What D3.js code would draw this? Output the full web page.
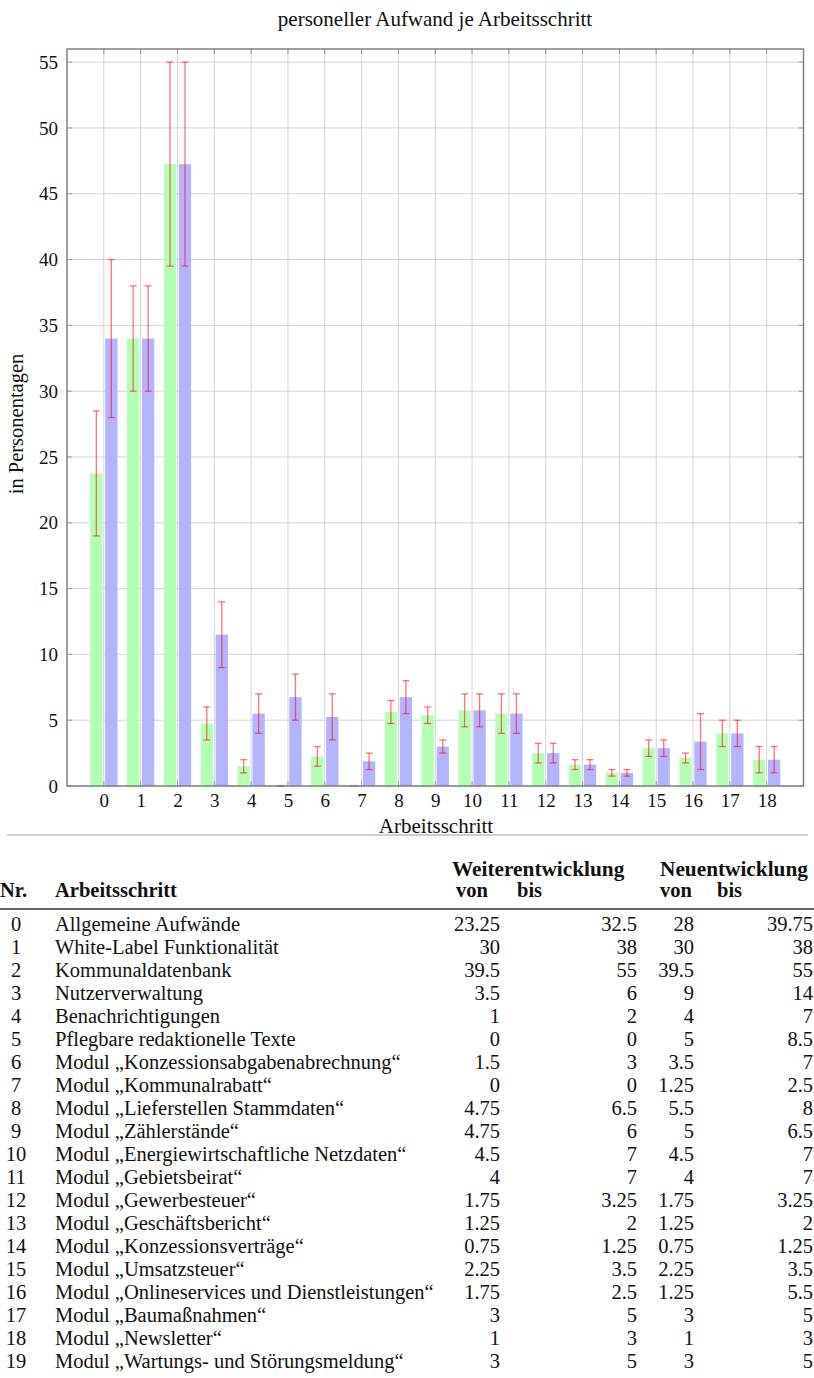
<!DOCTYPE html>
<html>
<head>
<meta charset="utf-8">
<script src="https://cdn.jsdelivr.net/npm/d3@7"></script>
<style>
  body { margin: 0; background: #fff; }
  svg text { font-family: "Liberation Serif", "DejaVu Serif", serif; fill: #111; }
</style>
</head>
<body>
<div id="chart"></div>
<script>
// bar chart values
const steps = d3.range(0, 19);
const weiterVal = [23.75, 34, 47.25, 4.75, 1.5, 0, 2.25, 0, 5.625, 5.375, 5.75, 5.5, 2.5, 1.625, 1, 2.875, 2.125, 4, 2];
const weiterLow = [19, 30, 39.5, 3.5, 1, 0, 1.5, 0, 4.75, 4.75, 4.5, 4, 1.75, 1.25, 0.75, 2.25, 1.75, 3, 1];
const weiterHigh = [28.5, 38, 55, 6, 2, 0, 3, 0, 6.5, 6, 7, 7, 3.25, 2, 1.25, 3.5, 2.5, 5, 3];
const neuVal = [34, 34, 47.25, 11.5, 5.5, 6.75, 5.25, 1.875, 6.75, 3, 5.75, 5.5, 2.5, 1.625, 1, 2.875, 3.375, 4, 2];
const neuLow = [28, 30, 39.5, 9, 4, 5, 3.5, 1.25, 5.5, 2.5, 4.5, 4, 1.75, 1.25, 0.75, 2.25, 1.25, 3, 1];
const neuHigh = [40, 38, 55, 14, 7, 8.5, 7, 2.5, 8, 3.5, 7, 7, 3.25, 2, 1.25, 3.5, 5.5, 5, 3];
const yTicks = [0, 5, 10, 15, 20, 25, 30, 35, 40, 45, 50, 55];

// table below the chart
const tableNr = d3.range(0, 20);
const tableNames = [
  "Allgemeine Aufwände",
  "White-Label Funktionalität",
  "Kommunaldatenbank",
  "Nutzerverwaltung",
  "Benachrichtigungen",
  "Pflegbare redaktionelle Texte",
  "Modul „Konzessionsabgabenabrechnung“",
  "Modul „Kommunalrabatt“",
  "Modul „Lieferstellen Stammdaten“",
  "Modul „Zählerstände“",
  "Modul „Energiewirtschaftliche Netzdaten“",
  "Modul „Gebietsbeirat“",
  "Modul „Gewerbesteuer“",
  "Modul „Geschäftsbericht“",
  "Modul „Konzessionsverträge“",
  "Modul „Umsatzsteuer“",
  "Modul „Onlineservices und Dienstleistungen“",
  "Modul „Baumaßnahmen“",
  "Modul „Newsletter“",
  "Modul „Wartungs- und Störungsmeldung“"
];
const weiterVon = ["23.25", "30", "39.5", "3.5", "1", "0", "1.5", "0", "4.75", "4.75", "4.5", "4", "1.75", "1.25", "0.75", "2.25", "1.75", "3", "1", "3"];
const weiterBis = ["32.5", "38", "55", "6", "2", "0", "3", "0", "6.5", "6", "7", "7", "3.25", "2", "1.25", "3.5", "2.5", "5", "3", "5"];
const neuVon = ["28", "30", "39.5", "9", "4", "5", "3.5", "1.25", "5.5", "5", "4.5", "4", "1.75", "1.25", "0.75", "2.25", "1.25", "3", "1", "3"];
const neuBis = ["39.75", "38", "55", "14", "7", "8.5", "7", "2.5", "8", "6.5", "7", "7", "3.25", "2", "1.25", "3.5", "5.5", "5", "3", "5"];

const width = 814, height = 1378;
const svg = d3.select("#chart").append("svg")
  .attr("width", width)
  .attr("height", height);

const plot = { left: 67, right: 803.5, top: 49, bottom: 786 };
const x = d3.scaleLinear().domain([-1, 19]).range([plot.left, plot.right]);
const y = d3.scaleLinear().domain([0, 56]).range([plot.bottom, plot.top]);

const barW = 12.3, shift = 7.5, capW = 7;

// grid
const grid = svg.append("g").attr("stroke", "#d4d4d4").attr("stroke-width", 1);
grid.selectAll(".gx").data(steps).join("line")
  .attr("x1", d => x(d)).attr("x2", d => x(d))
  .attr("y1", plot.top).attr("y2", plot.bottom);
grid.selectAll(".gy").data(yTicks).join("line")
  .attr("x1", plot.left).attr("x2", plot.right)
  .attr("y1", d => y(d)).attr("y2", d => y(d));

// small tick marks on all four sides
const ticks = svg.append("g").attr("stroke", "#999").attr("stroke-width", 1);
ticks.selectAll(".tl").data(yTicks).join("line")
  .attr("x1", plot.left).attr("x2", plot.left + 5)
  .attr("y1", d => y(d)).attr("y2", d => y(d));
ticks.selectAll(".tr").data(yTicks).join("line")
  .attr("x1", plot.right - 5).attr("x2", plot.right)
  .attr("y1", d => y(d)).attr("y2", d => y(d));
ticks.selectAll(".tt").data(steps).join("line")
  .attr("x1", d => x(d)).attr("x2", d => x(d))
  .attr("y1", plot.top).attr("y2", plot.top + 5);
ticks.selectAll(".tb").data(steps).join("line")
  .attr("x1", d => x(d)).attr("x2", d => x(d))
  .attr("y1", plot.bottom - 5).attr("y2", plot.bottom);

// bars
const series = [
  { val: weiterVal, low: weiterLow, high: weiterHigh, off: -shift, color: "#b3ffb3" },
  { val: neuVal, low: neuLow, high: neuHigh, off: shift, color: "#b3b3ff" }
];

series.forEach(s => {
  svg.append("g").selectAll("rect").data(steps).join("rect")
    .attr("x", d => x(d) + s.off - barW / 2)
    .attr("width", barW)
    .attr("y", d => y(s.val[d]))
    .attr("height", d => y(0) - y(s.val[d]))
    .attr("fill", s.color);
});

// error bars
series.forEach(s => {
  const eb = svg.append("g")
    .attr("stroke", "red")
    .attr("stroke-opacity", 0.55)
    .attr("stroke-width", 1.3);
  eb.selectAll(".v").data(steps).join("line")
    .attr("x1", d => x(d) + s.off).attr("x2", d => x(d) + s.off)
    .attr("y1", d => y(s.low[d])).attr("y2", d => y(s.high[d]));
  eb.selectAll(".c1").data(steps).join("line")
    .attr("x1", d => x(d) + s.off - capW / 2).attr("x2", d => x(d) + s.off + capW / 2)
    .attr("y1", d => y(s.low[d])).attr("y2", d => y(s.low[d]));
  eb.selectAll(".c2").data(steps).join("line")
    .attr("x1", d => x(d) + s.off - capW / 2).attr("x2", d => x(d) + s.off + capW / 2)
    .attr("y1", d => y(s.high[d])).attr("y2", d => y(s.high[d]));
});

// frame
svg.append("rect")
  .attr("x", plot.left).attr("y", plot.top)
  .attr("width", plot.right - plot.left).attr("height", plot.bottom - plot.top)
  .attr("fill", "none").attr("stroke", "#7a7a7a").attr("stroke-width", 1.4);

// axis labels via d3 axes
const yAxis = svg.append("g")
  .attr("transform", `translate(${plot.left},0)`)
  .call(d3.axisLeft(y).tickValues(yTicks).tickSize(0).tickPadding(9));
const xAxis = svg.append("g")
  .attr("transform", `translate(0,${plot.bottom})`)
  .call(d3.axisBottom(x).tickValues(steps).tickSize(0).tickPadding(8));
[yAxis, xAxis].forEach(a => {
  a.select(".domain").remove();
  a.selectAll("text").attr("font-size", 19).attr("fill", "#111");
});

svg.append("text")
  .attr("x", 435).attr("y", 26)
  .attr("text-anchor", "middle").attr("font-size", 21)
  .text("personeller Aufwand je Arbeitsschritt");

svg.append("text")
  .attr("transform", "translate(23,424) rotate(-90)")
  .attr("text-anchor", "middle").attr("font-size", 20.5)
  .text("in Personentagen");

svg.append("text")
  .attr("x", 436).attr("y", 833)
  .attr("text-anchor", "middle").attr("font-size", 21)
  .text("Arbeitsschritt");

// separator
svg.append("line")
  .attr("x1", 7).attr("x2", 808).attr("y1", 835).attr("y2", 835)
  .attr("stroke", "#a0a0a0").attr("stroke-width", 1);

// ---- table ----
const tbl = svg.append("g").attr("font-size", 20.5);
const head = tbl.append("g").attr("font-weight", "bold");
head.append("text").attr("x", 452).attr("y", 876).attr("font-size", 21.3).text("Weiterentwicklung");
head.append("text").attr("x", 660).attr("y", 876).attr("font-size", 21.3).text("Neuentwicklung");
head.append("text").attr("x", 0).attr("y", 897).text("Nr.");
head.append("text").attr("x", 55).attr("y", 897).text("Arbeitsschritt");
head.append("text").attr("x", 456).attr("y", 897).text("von");
head.append("text").attr("x", 517).attr("y", 897).text("bis");
head.append("text").attr("x", 660).attr("y", 897).text("von");
head.append("text").attr("x", 717).attr("y", 897).text("bis");

tbl.append("line")
  .attr("x1", 0).attr("x2", 814).attr("y1", 909).attr("y2", 909)
  .attr("stroke", "#333").attr("stroke-width", 1.6);

const rowY = d3.scaleLinear().domain([0, 19]).range([931, 1368]);
const cols = [
  { vals: tableNr, x: 16, anchor: "middle" },
  { vals: tableNames, x: 55, anchor: "start" },
  { vals: weiterVon, x: 500, anchor: "end" },
  { vals: weiterBis, x: 637, anchor: "end" },
  { vals: neuVon, x: 694, anchor: "end" },
  { vals: neuBis, x: 813, anchor: "end" }
];
cols.forEach(c => {
  tbl.append("g").selectAll("text").data(c.vals).join("text")
    .attr("x", c.x)
    .attr("y", (d, i) => rowY(i))
    .attr("text-anchor", c.anchor)
    .text(d => d);
});
</script>
</body>
</html>
